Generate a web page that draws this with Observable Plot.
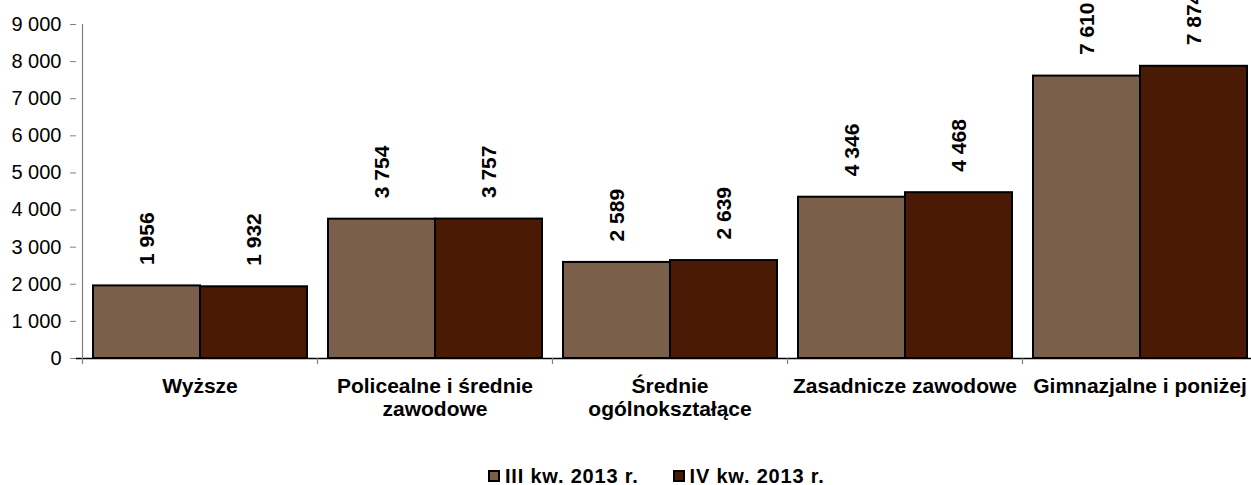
<!DOCTYPE html>
<html>
<head>
<meta charset="utf-8">
<script src="https://cdn.jsdelivr.net/npm/d3@7"></script>
<script src="https://cdn.jsdelivr.net/npm/@observablehq/plot@0.6"></script>
<style>
  html, body { margin: 0; padding: 0; background: #fff; width: 1251px; height: 485px; overflow: hidden; position: relative; }
  #chart svg { display: block; }
  #legend { position: absolute; left: 488px; top: 466px; font-family: "Liberation Sans", Arial, sans-serif; font-weight: bold; font-size: 20px; letter-spacing: 0.8px; line-height: 20px; display: flex; align-items: center; white-space: nowrap; }
  .item { display: flex; align-items: center; }
  .sw { width: 8px; height: 8px; border: 2px solid #000; margin-right: 5px; }
</style>
</head>
<body>
<div id="chart"></div>
<div id="legend"></div>
<script>
const categories = ["Wyższe", "Policealne i średnie\nzawodowe", "Średnie\nogólnokształące", "Zasadnicze zawodowe", "Gimnazjalne i poniżej"];
const seriesNames = ["III kw. 2013 r.", "IV kw. 2013 r."];
const q3Values = [1956, 3754, 2589, 4346, 7610];
const q4Values = [1932, 3757, 2639, 4468, 7874];
const yTicks = [0, 1000, 2000, 3000, 4000, 5000, 6000, 7000, 8000, 9000];
const colors = ["#7A604A", "#4A1A04"];

const fmt = d3.formatLocale({thousands: " ", grouping: [3], decimal: ","}).format(",d");

const rows = [];
categories.forEach((c, i) => {
  rows.push({cat: c, series: seriesNames[0], value: q3Values[i]});
  rows.push({cat: c, series: seriesNames[1], value: q4Values[i]});
});
const s1 = rows.filter(d => d.series === seriesNames[0]);
const s2 = rows.filter(d => d.series === seriesNames[1]);

const font = "'Liberation Sans', Arial, sans-serif";

const chart = Plot.plot({
  width: 1251,
  height: 430,
  marginLeft: 76,
  marginRight: 0,
  marginTop: 24,
  marginBottom: 72,
  style: {fontFamily: font, background: "#fff", overflow: "hidden"},
  x: {domain: categories, range: [82, 1257], padding: 0, axis: null},
  y: {domain: [0, 9000], range: [358, 24], axis: null},
  marks: [
    Plot.barY(s1, {x: "cat", y: "value", fill: colors[0], stroke: "#000", strokeWidth: 2, insetLeft: 11, insetRight: 117}),
    Plot.barY(s2, {x: "cat", y: "value", fill: colors[1], stroke: "#000", strokeWidth: 2, insetLeft: 118, insetRight: 10}),
    Plot.ruleY([0], {stroke: "#000", strokeWidth: 1.5}),
    Plot.ruleX([categories[0]], {x: d => d, dx: -117.5, y1: 9000, y2: 0, insetBottom: -6, stroke: "#808080", strokeWidth: 1.2}),
    Plot.ruleX(categories.slice(1), {x: d => d, dx: -117.5, y1: 0, y2: 0, insetBottom: -6, stroke: "#808080", strokeWidth: 1.2}),
    Plot.axisY({ticks: yTicks, tickSize: 6, tickPadding: 9, tickFormat: fmt, fontSize: 20, stroke: "#808080", color: "#000", letterSpacing: 0.8, label: null}),
    Plot.axisX({tickSize: 0, tickPadding: 18, fontSize: 21, fontWeight: "bold", lineHeight: 1.1, color: "#000", letterSpacing: 0.6, textOverflow: null, lineWidth: Infinity, label: null}),
    Plot.text(s1, {x: "cat", y: "value", text: d => fmt(d.value), rotate: -90, textAnchor: "start", dx: -53, dy: -21, fontSize: 21, fontWeight: "bold", fill: "#000"}),
    Plot.text(s2, {x: "cat", y: "value", text: d => fmt(d.value), rotate: -90, textAnchor: "start", dx: 54, dy: -21, fontSize: 21, fontWeight: "bold", fill: "#000"})
  ]
});
document.getElementById("chart").appendChild(chart);

const legend = document.getElementById("legend");
seriesNames.forEach((name, i) => {
  const item = document.createElement("div");
  item.className = "item";
  if (i > 0) item.style.marginLeft = "34px";
  const sw = document.createElement("span");
  sw.className = "sw";
  sw.style.background = colors[i];
  const t = document.createElement("span");
  t.textContent = name;
  item.appendChild(sw);
  item.appendChild(t);
  legend.appendChild(item);
});
</script>
</body>
</html>
